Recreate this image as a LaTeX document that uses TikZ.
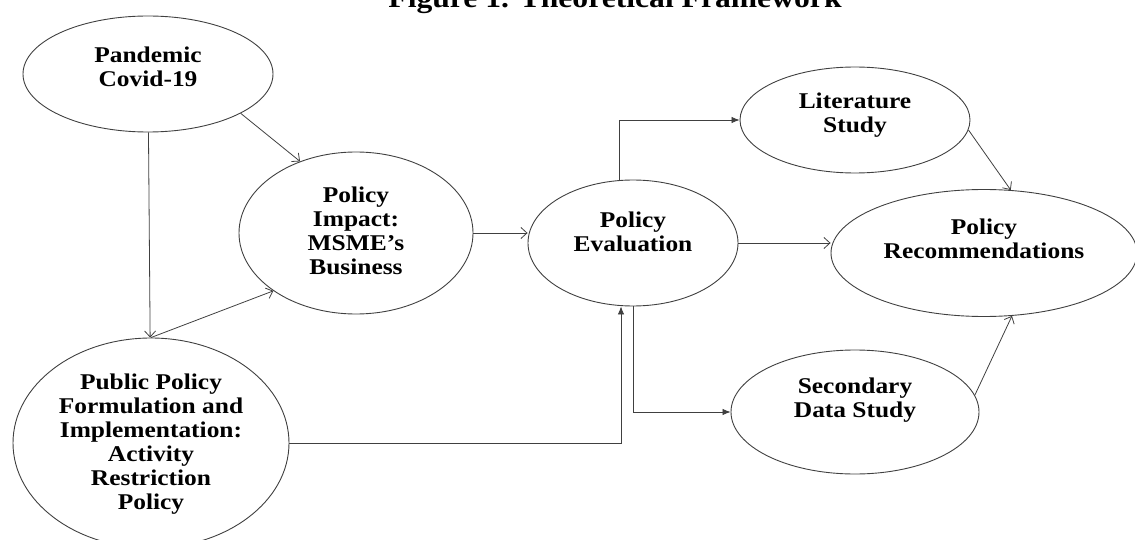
\documentclass[tikz,border=0pt]{standalone}
\usepackage{fontspec}
\setmainfont{Liberation Serif}[FakeStretch=1.13]
\usetikzlibrary{arrows.meta,shapes.geometric,positioning}

\begin{document}
\begin{tikzpicture}[
  x=1pt, y=-1pt,
  oval/.style 2 args={ellipse, draw=black!75, line width=0.9pt, inner sep=0pt,
                minimum width=#1, minimum height=#2},
  caption/.style={font=\fontsize{22.5}{24}\selectfont\bfseries, align=center, inner sep=0pt},
  arrow/.style={-{Straight Barb[length=6pt,width=11pt]}, line width=0.8pt, draw=black!75},
  farrow/.style={-{Latex[length=8pt,width=6.5pt]}, line width=0.8pt, draw=black!75}
]
  \useasboundingbox (0,0) rectangle (1135,540);
  \clip (0,0) rectangle (1135,540);

  \node[font=\fontsize{28}{30}\selectfont\bfseries, anchor=base, inner sep=0pt] (title) at (615,8) {Figure 1. Theoretical Framework};

  % ovals
  \node[oval={250pt}{116pt}] (pand) at (148,74) {};
  \node[oval={234pt}{162pt}] (impact) at (356,233) {};
  \node[oval={276pt}{210pt}] (pub) at (151,443) {};
  \node[oval={210pt}{126pt}] (eval) at (633,243) {};
  \node[oval={230pt}{106pt}] (lit) at (855,120) {};
  \node[oval={306pt}{127pt}] (rec) at (984,253) {};
  \node[oval={248pt}{124pt}] (sec) at (855,412) {};

  % texts
  \node[caption] (pand-txt) at ([yshift=7.5pt]pand.center) {Pandemic\\Covid-19};
  \node[caption] (impact-txt) at ([yshift=2pt]impact.center) {Policy\\Impact:\\MSME’s\\Business};
  \node[caption] (pub-txt) at ([yshift=-1.5pt]pub.center) {Public Policy\\Formulation and\\Implementation:\\Activity\\Restriction\\Policy};
  \node[caption] (eval-txt) at ([yshift=11pt]eval.center) {Policy\\Evaluation};
  \node[caption] (lit-txt) at ([yshift=4.5pt]lit.center) {Literature\\Study};
  \node[caption] (rec-txt) at ([yshift=14.5pt]rec.center) {Policy\\Recommendations};
  \node[caption] (sec-txt) at ([yshift=11.5pt]sec.center) {Secondary\\Data Study};

  % links
  \draw[arrow] (pand) -- (pub);
  \draw[arrow] (pand.337) -- (impact.128);
  \draw[arrow] (pub.north) -- (impact.215);
  \draw[arrow] (impact.east) -- (impact.east -| eval.west);
  \draw[farrow] (pub.east) -| ([xshift=-12pt]eval.south);
  \draw[farrow] (eval.south) |- (sec.west);
  \draw[farrow] ([xshift=-14pt]eval.north) |- (lit.west);
  \draw[arrow] (eval.east) -- (rec.west |- eval.east);
  \draw[arrow] (lit.355) -- (rec.67);
  \draw[arrow] (sec.8) -- (rec.294);
\end{tikzpicture}
\end{document}
